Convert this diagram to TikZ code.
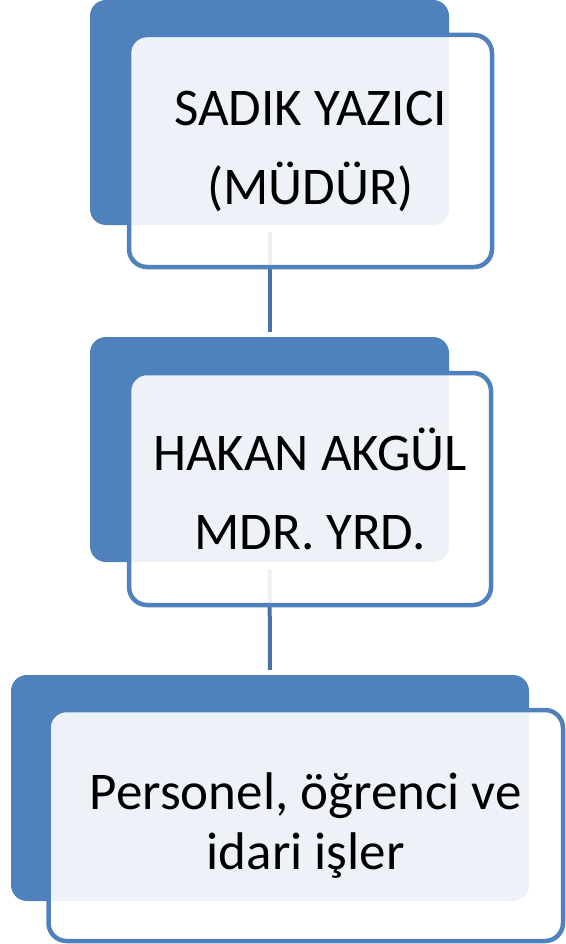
\documentclass[tikz,border=0pt]{standalone}
\usepackage{fontspec}
\setmainfont{Carlito}
\definecolor{boxblue}{RGB}{79,129,189}
\definecolor{linkblue}{RGB}{70,114,170}

\begin{document}
\begin{tikzpicture}[x=1pt,y=-1pt]
    \tikzstyle{back}=[rectangle,fill=boxblue,rounded corners=16pt,inner sep=0pt]
    \tikzstyle{front}=[rectangle,draw=boxblue,line width=4.5pt,fill=white,fill opacity=0.9,text opacity=1,rounded corners=18pt,inner sep=0pt,align=center,font=\fontsize{53}{79}\selectfont]
    \tikzstyle{link}=[draw=linkblue,line width=4pt,-,shorten <=7pt,shorten >=5pt]

    \useasboundingbox (0,0) rectangle (565,944);

    \node[back,minimum width=359pt,minimum height=225pt] (b1) at (269.5,112.5) {};
    \node[back,minimum width=359pt,minimum height=225pt] (b2) at (269.5,449.5) {};
    \node[back,minimum width=518pt,minimum height=226pt] (b3) at (270,788) {};

    \path[link] (b1) -- (b2);
    \path[link] (b2) -- (b3);

    \node[front,minimum width=363pt,minimum height=232pt] (f1) at (310.5,151) {SADIK YAZICI\\(MÜDÜR)};
    \node[front,minimum width=362pt,minimum height=232pt] (f2) at (310,489) {HAKAN AKGÜL\\MDR. YRD.};
    \node[front,minimum width=514.5pt,minimum height=231pt,font=\fontsize{53}{60}\selectfont] (f3) at (305.75,825.5) {Personel, öğrenci ve\\idari işler};
\end{tikzpicture}
\end{document}
